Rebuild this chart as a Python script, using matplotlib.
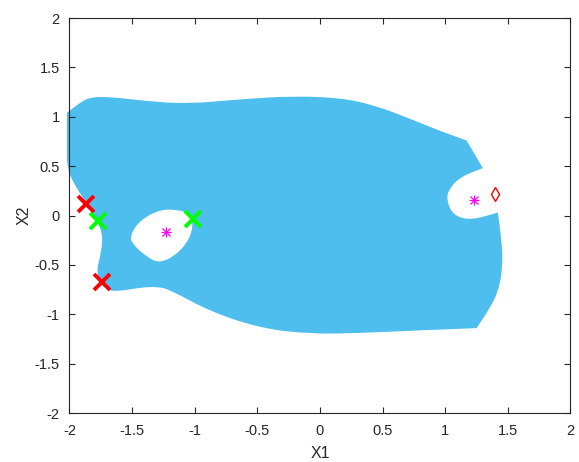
import numpy as np
import matplotlib
matplotlib.use("Agg")
import matplotlib.pyplot as plt
from matplotlib.path import Path
from matplotlib.patches import PathPatch

plt.rcParams["font.family"] = ["Liberation Sans", "DejaVu Sans"]

# outer boundary of the feasible region (X1, X2), walked clockwise;
# repeated vertices mark sharp corners
outer_x1 = [-2.02, -2.02, -2.02, -1.93, -1.84, -1.66, -1.40, -1.06, -0.61, -0.21, 0.18, 0.45, 0.70, 0.95, 1.17, 1.17,
            1.30, 1.30, 1.26, 1.12, 1.03, 1.01, 1.06, 1.20, 1.42, 1.42,
            1.45, 1.46, 1.42, 1.33, 1.25, 1.25,
            0.85, 0.32, -0.08, -0.48, -0.88, -1.20, -1.30, -1.44, -1.62, -1.71, -1.77, -1.78,
            -1.76, -1.73, -1.78, -1.86, -1.97, -2.02]
outer_x2 = [0.70, 1.04, 1.04, 1.13, 1.20, 1.20, 1.16, 1.13, 1.18, 1.21, 1.19, 1.11, 0.99, 0.86, 0.76, 0.76,
            0.48, 0.48, 0.46, 0.39, 0.27, 0.16, 0.005, -0.05, 0.03, 0.03,
            -0.25, -0.52, -0.79, -0.99, -1.14, -1.14,
            -1.16, -1.19, -1.20, -1.14, -0.97, -0.75, -0.72, -0.73, -0.77, -0.75, -0.64, -0.53,
            -0.45, -0.21, -0.05, 0.12, 0.33, 0.49]

# hole around the left centre point
hole_x1 = [-1.52, -1.49, -1.38, -1.29, -1.17, -1.06, -1.01, -1.04, -1.14, -1.28, -1.44]
hole_x2 = [-0.21, -0.30, -0.42, -0.48, -0.42, -0.28, -0.11, 0.02, 0.06, 0.06, -0.05]

# markers
red_x1 = [-1.87, -1.74]
red_x2 = [0.12, -0.67]
green_x1 = [-1.77, -1.01]
green_x2 = [-0.06, -0.04]
star_x1 = [-1.23, 1.23]
star_x2 = [-0.17, 0.16]
diamond_x1 = [1.40]
diamond_x2 = [0.22]


def smooth_ring(xs, ys):
    # closed quadratic-bezier ring using the given points as control points
    pts = np.column_stack([xs, ys])
    n = len(pts)
    mids = (pts + np.roll(pts, -1, axis=0)) / 2
    verts = [mids[-1]]
    codes = [Path.MOVETO]
    for i in range(n):
        verts += [pts[i], mids[i]]
        codes += [Path.CURVE3, Path.CURVE3]
    verts.append(mids[-1])
    codes.append(Path.CLOSEPOLY)
    return verts, codes


fig = plt.figure(figsize=(5.79, 4.62), dpi=100)
ax = fig.add_axes([0.12, 0.106, 0.8653, 0.855])

v1, c1 = smooth_ring(outer_x1, outer_x2)
v2, c2 = smooth_ring(hole_x1, hole_x2)
region = PathPatch(Path(v1 + v2, c1 + c2), facecolor="#4DBEEE", edgecolor="none",
                   clip_on=False, zorder=1)
ax.add_patch(region)

ax.plot(red_x1, red_x2, "x", color="#FF0000", markersize=11, markeredgewidth=2.8, zorder=3)
ax.plot(green_x1, green_x2, "x", color="#00FF00", markersize=11, markeredgewidth=2.8, zorder=3)
ax.plot(star_x1, star_x2, "x", color="#FF00FF", markersize=5.5, markeredgewidth=0.9, zorder=3)
ax.plot(star_x1, star_x2, "+", color="#FF00FF", markersize=7, markeredgewidth=0.9, zorder=3)
ax.plot(diamond_x1, diamond_x2, "d", color="#FF0000", markersize=7.5, markerfacecolor="none",
        markeredgewidth=1.0, zorder=3)

ax.set_xlim(-2, 2)
ax.set_ylim(-2, 2)
ticks = np.arange(-2, 2.01, 0.5)
ax.set_xticks(ticks)
ax.set_yticks(ticks)
ax.set_xticklabels([f"{t:g}" for t in ticks])
ax.set_yticklabels([f"{t:g}" for t in ticks])
ax.tick_params(direction="in", top=True, right=True, length=4, width=0.8,
               color="#262626", labelcolor="#262626", labelsize=10.5)
ax.tick_params(axis="x", pad=8)
ax.tick_params(axis="y", pad=7)
for s in ax.spines.values():
    s.set_color("#262626")
    s.set_linewidth(0.8)
ax.set_xlabel("X1", fontsize=11.5, color="#262626", labelpad=6)
ax.set_ylabel("X2", fontsize=11.5, color="#262626", labelpad=2)

fig.savefig("out.png", dpi=100)
